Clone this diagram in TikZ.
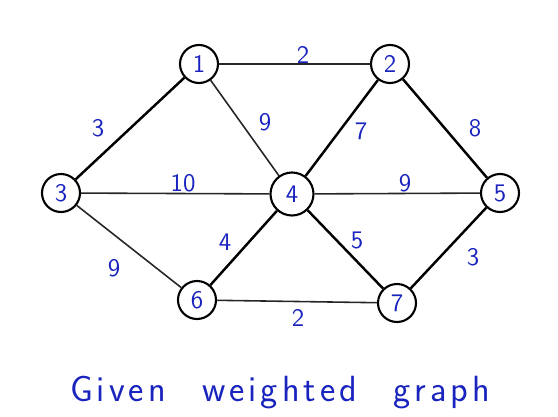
\documentclass[tikz,border=0pt]{standalone}
\usepackage{xcolor}
\usetikzlibrary{positioning}
\definecolor{inkblue}{RGB}{25,35,190}
\newcommand{\ls}{\hspace{0.11em}}

\begin{document}
\begin{tikzpicture}[
  x=0.02cm, y=-0.02cm,
  font=\Large\sffamily,
  vtx/.style={draw, circle, line width=1.2pt, minimum size=0.76cm, inner sep=0pt, text=inkblue},
  wt/.style={text=inkblue, inner sep=1pt},
  thick edge/.style={draw=black, line width=1.4pt},
  thin edge/.style={draw=black!85, line width=0.9pt}]

\useasboundingbox (0,0) rectangle (558,416);

% ===== vertices =====
\node[vtx] (v1) at (199,64)  {1};
\node[vtx] (v2) at (390,64)  {2};
\node[vtx] (v3) at (61,193)  {3};
\node[vtx, minimum width=0.86cm] (v4) at (292,194) {4};
\node[vtx] (v5) at (500,193) {5};
\node[vtx] (v6) at (197,300) {6};
\node[vtx] (v7) at (397,303) {7};

% ===== weights =====
\node[wt] (w12) at (303,55)  {2};
\node[wt] (w13) at (98,128)  {3};
\node[wt] (w14) at (265,122) {9};
\node[wt] (w24) at (361,131) {7};
\node[wt] (w25) at (475,128) {8};
\node[wt] (w34) at (183,183) {10};
\node[wt] (w45) at (405,183) {9};
\node[wt] (w46) at (225,242) {4};
\node[wt] (w47) at (357,240) {5};
\node[wt] (w36) at (114,268) {9};
\node[wt] (w57) at (473,257) {3};
\node[wt] (w67) at (298,318) {2};

% ===== edges =====
\draw[thin edge]  (v1) -- (v2);
\draw[thick edge] (v1) -- (v3);
\draw[thin edge]  (v1) -- (v4);
\draw[thick edge] (v2) -- (v4);
\draw[thick edge] (v2) -- (v5);
\draw[thin edge]  (v3) -- (v4);
\draw[thin edge]  (v4) -- (v5);
\draw[thin edge]  (v3) -- (v6);
\draw[thick edge] (v4) -- (v6);
\draw[thick edge] (v4) -- (v7);
\draw[thick edge] (v5) -- (v7);
\draw[thin edge]  (v6) -- (v7);

% ===== caption =====
\node[text=inkblue, font=\huge\sffamily] (cap) at (280,393)
  {G\ls i\ls v\ls e\ls n\quad w\ls e\ls i\ls g\ls h\ls t\ls e\ls d\quad g\ls r\ls a\ls p\ls h};

\end{tikzpicture}
\end{document}
